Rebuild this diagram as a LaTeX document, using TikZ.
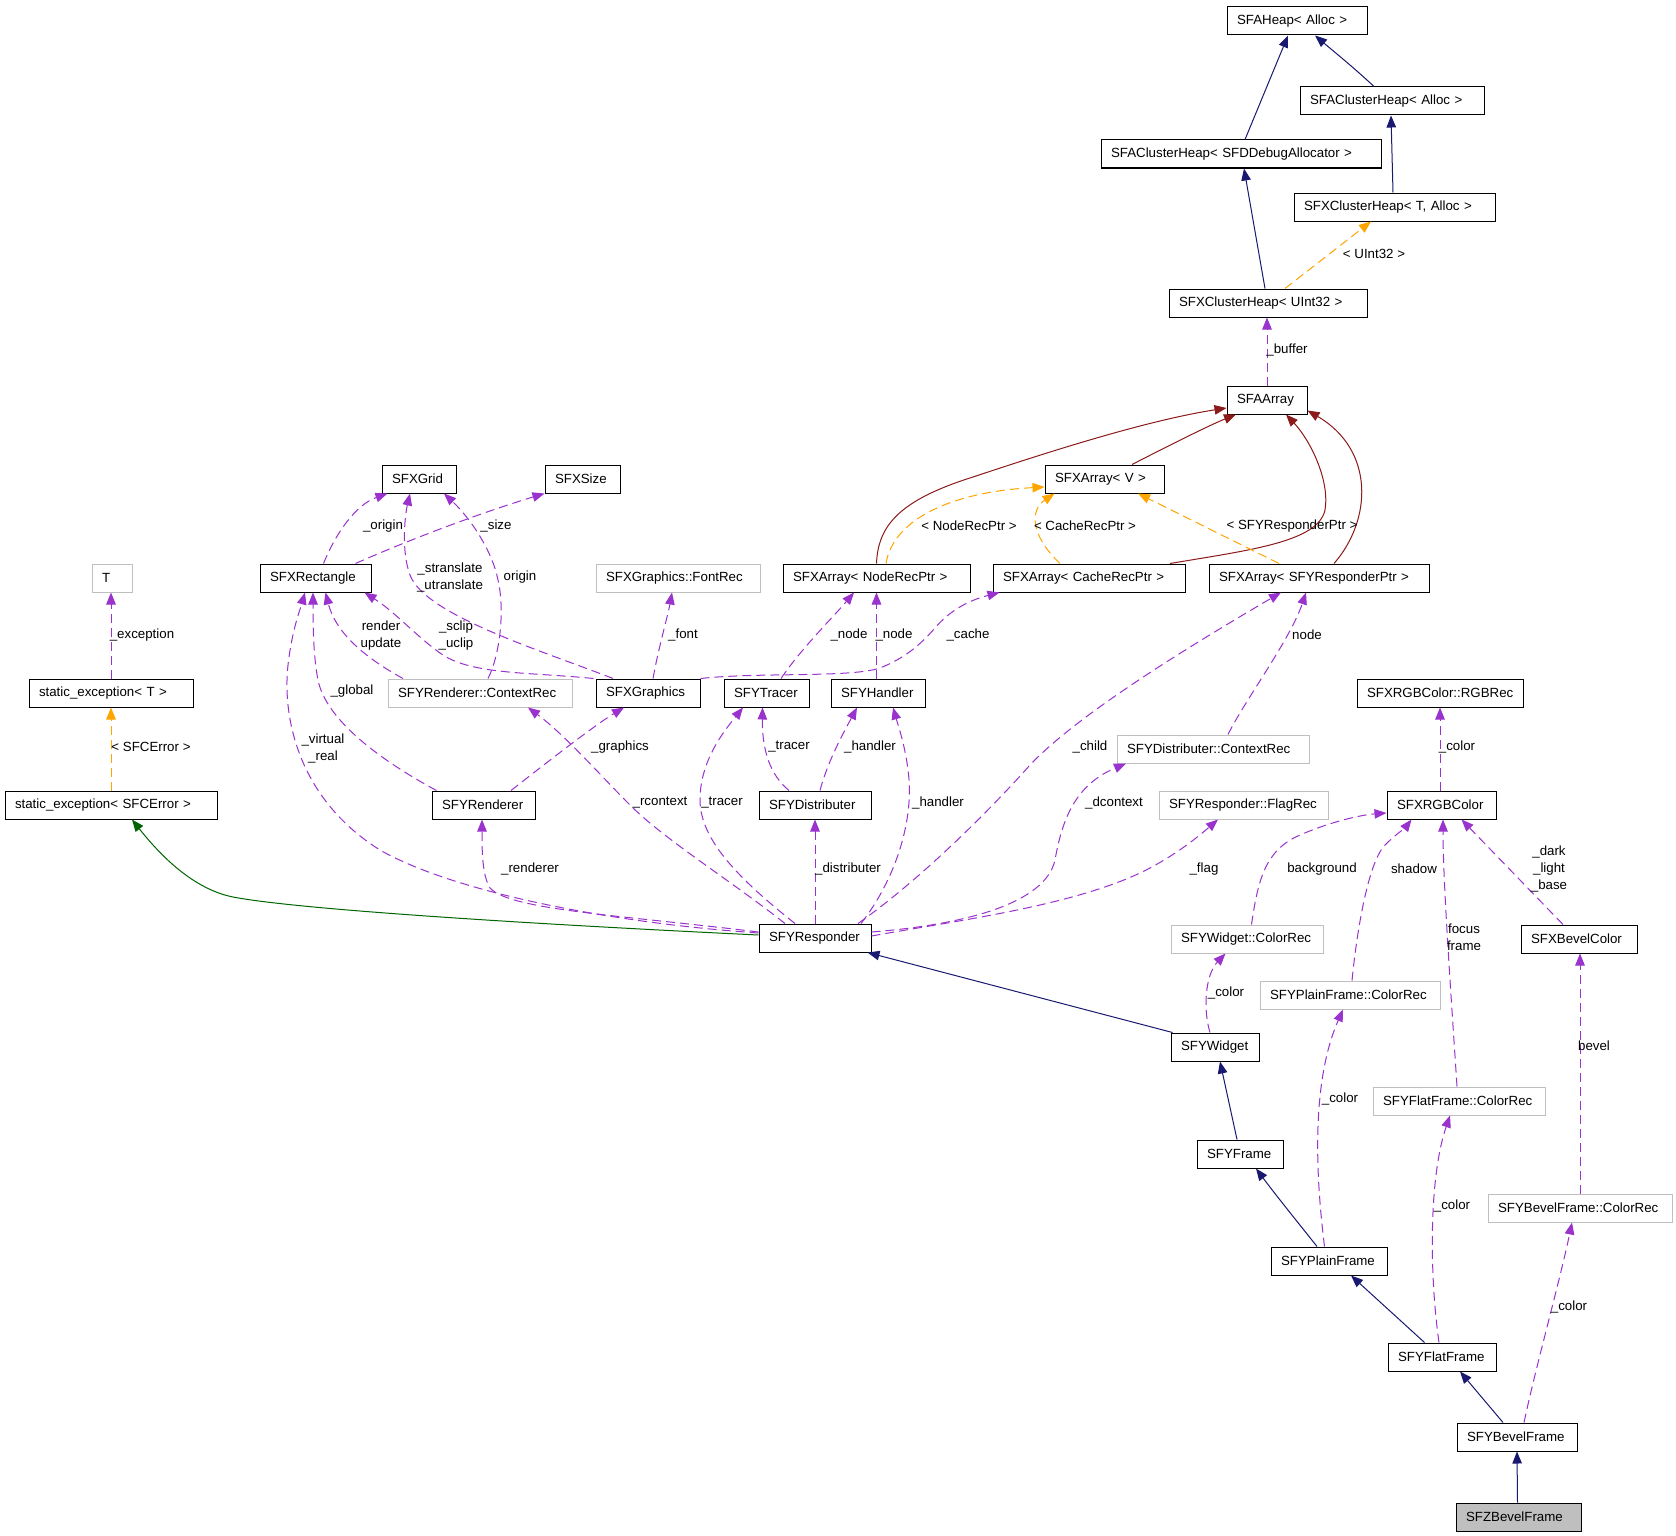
\documentclass[tikz,border=0pt]{standalone}
\usepackage{fontspec}
\setmainfont{Liberation Sans}
\usetikzlibrary{arrows.meta,calc}
\definecolor{cNavy}{HTML}{191970}
\definecolor{cFire}{HTML}{8B1A1A}
\definecolor{cGreen}{HTML}{006400}
\definecolor{cOrch}{HTML}{9A32CD}
\definecolor{cOrng}{HTML}{FFA500}
\definecolor{cGray}{HTML}{BFBFBF}
\newcommand\dgfont{\fontsize{13.3}{17}\selectfont}
\begin{document}
\begin{tikzpicture}[x=1pt,y=-1pt,
  cls/.style={draw=black, line width=1pt, inner xsep=10pt, inner ysep=0pt,
    minimum height=28pt, text width=#1, align=left,
    font={\dgfont\hyphenpenalty=10000\exhyphenpenalty=10000}},
  gcls/.style={cls=#1, draw=cGray},
  lbl/.style={inner sep=0pt, align=center, font=\dgfont},
  arr/.style={-{Triangle[length=12pt,width=9.5pt]}, line width=1pt},
  inh/.style={arr, cNavy},
  priv/.style={arr, cFire},
  prot/.style={arr, cGreen},
  usedep/.style={arr, cOrch, dash pattern=on 9pt off 5pt},
  tmpl/.style={arr, cOrng, dash pattern=on 9pt off 5pt},
]
\fill[white] (0,0) rectangle (1676,1536);
\useasboundingbox (0,0) rectangle (1676,1536);

% ---------- nodes ----------
\node[cls=120pt] (heap) at (1297,21) {SFAHeap<~Alloc~>};
\node[cls=164pt] (chAlloc) at (1392,101) {SFAClusterHeap<~Alloc~>};
\node[cls=260pt] (chDebug) at (1241,154) {SFAClusterHeap<~SFDDebugAllocator~>};
\node[cls=181pt] (xchT) at (1394.5,207) {SFXClusterHeap<~T,~Alloc~>};
\node[cls=178pt] (xchU) at (1268,303) {SFXClusterHeap<~UInt32~>};
\node[cls=60pt] (aarray) at (1267,400) {SFAArray};
\node[cls=99pt] (xarrV) at (1104.5,479) {SFXArray<~V~>};
\node[cls=167pt] (xarrNode) at (876.5,578) {SFXArray<~NodeRecPtr~>};
\node[cls=172pt] (xarrCache) at (1089,578) {SFXArray<~CacheRecPtr~>};
\node[cls=200pt] (xarrResp) at (1319,578) {SFXArray<~SFYResponderPtr~>};
\node[cls=54pt] (grid) at (419,479) {SFXGrid};
\node[cls=55pt] (nsize) at (582.5,479) {SFXSize};
\node[cls=91pt] (rect) at (315.5,578) {SFXRectangle};
\node[gcls=144pt] (fontrec) at (678,578) {SFXGraphics::FontRec};
\node[gcls=20pt] (tT) at (112,578) {T};
\node[cls=144pt] (sexT) at (111,693) {static\_exception<~T~>};
\node[cls=192pt] (sexE) at (111,805) {static\_exception<~SFCError~>};
\node[gcls=164pt] (rctx) at (480,693) {SFYRenderer::ContextRec};
\node[cls=84pt] (graphics) at (648,693) {SFXGraphics};
\node[cls=65pt] (tracer) at (766.5,693) {SFYTracer};
\node[cls=74pt] (handler) at (878,693) {SFYHandler};
\node[cls=146pt] (rgbrec) at (1440,693) {SFXRGBColor::RGBRec};
\node[gcls=172pt] (dctx) at (1213,749) {SFYDistributer::ContextRec};
\node[cls=83pt] (renderer) at (483.5,805) {SFYRenderer};
\node[cls=92pt] (distributer) at (815,805) {SFYDistributer};
\node[gcls=149pt] (flagrec) at (1243.5,805) {SFYResponder::FlagRec};
\node[cls=89pt] (rgb) at (1441.5,805) {SFXRGBColor};
\node[cls=92pt] (responder) at (815,938) {SFYResponder};
\node[gcls=132pt] (wcolor) at (1247,939) {SFYWidget::ColorRec};
\node[cls=96pt] (bevelcolor) at (1579,939) {SFXBevelColor};
\node[gcls=160pt] (pcolor) at (1350,995) {SFYPlainFrame::ColorRec};
\node[cls=68pt] (widget) at (1215,1047) {SFYWidget};
\node[gcls=152pt] (fcolor) at (1459,1101) {SFYFlatFrame::ColorRec};
\node[cls=66pt] (frame) at (1240,1154) {SFYFrame};
\node[gcls=164pt] (bcolor) at (1580,1208) {SFYBevelFrame::ColorRec};
\node[cls=96pt] (plain) at (1329,1261) {SFYPlainFrame};
\node[cls=88pt] (flat) at (1442,1357) {SFYFlatFrame};
\node[cls=100pt] (bevel) at (1517,1437) {SFYBevelFrame};
\node[cls=105pt, fill=cGray] (zbevel) at (1518.5,1517) {SFZBevelFrame};

% ---------- public inheritance ----------
\draw[inh] ([xshift=4pt]chDebug.north) -- ([xshift=-9pt]heap.south);
\draw[inh] ([xshift=-18pt]chAlloc.north) .. controls (1352,66) and (1332,50) .. ([xshift=18pt]heap.south);
\draw[inh] ([xshift=-1.5pt]xchT.north) -- ([xshift=-1pt]chAlloc.south);
\draw[inh] ([xshift=-3pt]xchU.north) -- ([xshift=3pt]chDebug.south);
\draw[inh] ([xshift=2pt]widget.north west) -- ([xshift=-4pt]responder.south east);
\draw[inh] ([xshift=-3pt]frame.north) -- ([xshift=5pt]widget.south);
\draw[inh] ([xshift=-12pt]plain.north) .. controls (1300,1225) and (1278,1198) .. ([xshift=16pt]frame.south);
\draw[inh] ([xshift=-17.5pt]flat.north) -- ([xshift=22pt]plain.south);
\draw[inh] ([xshift=-14pt]bevel.north) -- ([xshift=18pt]flat.south);
\draw[inh] ([xshift=-1pt]zbevel.north) -- (bevel.south);

% ---------- protected inheritance ----------
\draw[prot] ([yshift=3pt]responder.west) .. controls (550,925) and (300,910) .. (233,897)
  .. controls (193,889) and (160,855) .. ([xshift=21pt]sexE.south);

% ---------- private inheritance ----------
\draw[priv] (xarrNode.north) .. controls (878,525) and (900,500) .. (973,477)
  .. controls (1060,448) and (1150,420) .. ([yshift=-8pt]aarray.west);
\draw[priv] ([xshift=27.5pt]xarrV.north) .. controls (1170,445) and (1210,425) .. ([xshift=-31pt]aarray.south);
\draw[priv] ([xshift=81pt]xarrCache.north) .. controls (1250,550) and (1318,542) .. (1325,510)
  .. controls (1330,480) and (1310,440) .. ([xshift=19pt]aarray.south);
\draw[priv] ([xshift=15pt]xarrResp.north) .. controls (1372,520) and (1375,450) .. ([yshift=4pt]aarray.south east);

% ---------- template instances ----------
\draw[tmpl] ([xshift=17pt]xchU.north) -- ([xshift=-23.5pt]xchT.south);
\draw[tmpl] (sexE.north) -- (sexT.south);
\draw[tmpl] ([xshift=9.5pt]xarrNode.north) .. controls (893,520) and (950,492) .. ([yshift=-8pt]xarrV.west);
\draw[tmpl] ([xshift=-29pt]xarrCache.north) .. controls (1030,535) and (1030,510) .. ([xshift=-50pt]xarrV.south);
\draw[tmpl] ([xshift=-40pt]xarrResp.north) -- ([xshift=33.5pt]xarrV.south);

% ---------- usage ----------
\draw[usedep] (aarray.north) -- (aarray.north |- xchU.south);
\draw[usedep] (sexT.north) -- (sexT.north |- tT.south);
\draw[usedep] ([xshift=8pt]rect.north) .. controls (335,535) and (355,505) .. ([xshift=6pt]grid.south west);
\draw[usedep] ([xshift=40pt]rect.north) .. controls (420,535) and (490,510) .. (nsize.south west);
\draw[usedep] ([xshift=-35pt]graphics.north) .. controls (540,650) and (425,615) .. (410,575)
  .. controls (401,551) and (405,515) .. ([xshift=-9pt]grid.south);
\draw[usedep] ([xshift=8pt]rctx.north) .. controls (500,655) and (505,610) .. (498,580)
  .. controls (492,550) and (470,518) .. ([xshift=25pt]grid.south);
\draw[usedep] ([xshift=-77pt]rctx.north) .. controls (360,655) and (335,630) .. ([xshift=10pt]rect.south);
\draw[usedep] ([xshift=-2pt]graphics.north west) .. controls (530,672) and (470,675) .. (440,653)
  .. controls (415,635) and (395,612) .. ([xshift=-7pt]rect.south east);
\draw[usedep] ([xshift=5pt]graphics.north) .. controls (658,650) and (668,615) .. ([xshift=-6pt]fontrec.south);
\draw[usedep] ([xshift=5pt]renderer.north west) .. controls (380,760) and (326,720) .. (318,680)
  .. controls (313,655) and (313,620) .. ([xshift=-2.5pt]rect.south);
\draw[usedep] ([yshift=5pt]responder.west) .. controls (600,922) and (450,890) .. (380,850)
  .. controls (300,800) and (282,720) .. (288,665)
  .. controls (292,630) and (300,610) .. ([xshift=-10.5pt]rect.south);
\draw[usedep] ([yshift=6pt]responder.west) .. controls (620,915) and (510,910) .. (490,888)
  .. controls (482,875) and (482,850) .. ([xshift=-1.5pt]renderer.south);
\draw[usedep] ([xshift=-30pt]responder.north) .. controls (730,880) and (665,840) .. (630,805)
  .. controls (600,775) and (565,735) .. ([xshift=48pt]rctx.south);
\draw[usedep] ([xshift=-20pt]responder.north) .. controls (740,880) and (700,840) .. (700,800)
  .. controls (700,760) and (725,730) .. ([xshift=-23.5pt]tracer.south);
\draw[usedep] ([xshift=-26pt]distributer.north) .. controls (770,775) and (762,750) .. ([xshift=-4pt]tracer.south);
\draw[usedep] ([xshift=5pt]distributer.north) .. controls (828,760) and (845,730) .. ([xshift=-21pt]handler.south);
\draw[usedep] (responder.north) -- (distributer.south);
\draw[usedep] ([xshift=46pt]responder.north) .. controls (895,880) and (915,820) .. (908,770)
  .. controls (905,745) and (898,725) .. ([xshift=15pt]handler.south);
\draw[usedep] ([xshift=43pt]responder.north) .. controls (920,880) and (990,810) .. (1030,765)
  .. controls (1080,712) and (1200,640) .. ([xshift=-38pt]xarrResp.south);
\draw[usedep] ([xshift=15pt]dctx.north) .. controls (1245,700) and (1290,640) .. ([xshift=-13pt]xarrResp.south);
\draw[usedep] ([yshift=6pt]responder.east) .. controls (960,925) and (1045,905) .. (1055,860)
  .. controls (1062,820) and (1075,785) .. ([xshift=-87pt]dctx.south);
\draw[usedep] ([yshift=2pt]responder.east) .. controls (960,920) and (1080,905) .. (1150,868)
  .. controls (1180,852) and (1200,835) .. ([xshift=-25.5pt]flagrec.south);
\draw[usedep] ([xshift=4.5pt]wcolor.north) .. controls (1258,880) and (1265,850) .. (1300,835)
  .. controls (1330,822) and (1360,815) .. ([yshift=-8pt]rgb.west);
\draw[usedep] ([xshift=2pt]pcolor.north) .. controls (1358,920) and (1370,860) .. (1385,845)
  .. controls (1395,835) and (1405,828) .. ([xshift=-30pt]rgb.south);
\draw[usedep] ([xshift=-2pt]fcolor.north) .. controls (1450,980) and (1443,880) .. ([xshift=1.5pt]rgb.south);
\draw[usedep] ([xshift=-16pt]bevelcolor.north) -- ([xshift=20pt]rgb.south);
\draw[usedep] ([xshift=-1.5pt]rgb.north) -- (rgbrec.south);
\draw[usedep] ([xshift=-5pt]widget.north) .. controls (1203,1010) and (1205,975) .. ([xshift=-21.5pt]wcolor.south);
\draw[usedep] ([xshift=-4.5pt]plain.north) .. controls (1315,1170) and (1312,1080) .. ([xshift=-7pt]pcolor.south);
\draw[usedep] ([xshift=-3pt]flat.north) .. controls (1430,1280) and (1428,1180) .. ([xshift=-9pt]fcolor.south);
\draw[usedep] ([xshift=7pt]bevel.north) .. controls (1535,1370) and (1560,1280) .. ([xshift=-8pt]bcolor.south);
\draw[usedep] (bcolor.north) -- (bcolor.north |- bevelcolor.south);
\draw[usedep] ([xshift=14.5pt]tracer.north) .. controls (800,650) and (835,615) .. ([xshift=-22.5pt]xarrNode.south);
\draw[usedep] ([xshift=-1.5pt]handler.north) -- (xarrNode.south);
\draw[usedep] (graphics.north east) .. controls (760,672) and (850,678) .. (880,668)
  .. controls (905,658) and (920,645) .. (935,628)
  .. controls (950,610) and (970,600) .. ([xshift=7pt]xarrCache.south west);
\draw[usedep] ([xshift=27.5pt]renderer.north) .. controls (550,760) and (595,725) .. ([xshift=-24pt]graphics.south);

% ---------- labels ----------
\node[lbl] (l1) at (1287,350) {\_buffer};
\node[lbl] (l2) at (1374,254) {< UInt32 >};
\node[lbl] (l3) at (969,526) {< NodeRecPtr >};
\node[lbl] (l4) at (1085,526) {< CacheRecPtr >};
\node[lbl] (l5) at (1292,526) {< SFYResponderPtr >};
\node[lbl] (l6) at (383,526) {\_origin};
\node[lbl] (l7) at (496,526) {\_size};
\node[lbl] (l8) at (450,577) {\_stranslate\\\_utranslate};
\node[lbl] (l9) at (520,577) {origin};
\node[lbl] (l10) at (381,636) {render\\update};
\node[lbl] (l11) at (456,636) {\_sclip\\\_uclip};
\node[lbl] (l12) at (683,635) {\_font};
\node[lbl] (l13) at (849,635) {\_node};
\node[lbl] (l14) at (894,635) {\_node};
\node[lbl] (l15) at (968,635) {\_cache};
\node[lbl] (l16) at (1307,635) {node};
\node[lbl] (l17) at (142,635) {\_exception};
\node[lbl] (l18) at (352,691) {\_global};
\node[lbl] (l19) at (323,748) {\_virtual\\\_real};
\node[lbl] (l20) at (620,747) {\_graphics};
\node[lbl] (l21) at (789,747) {\_tracer};
\node[lbl] (l22) at (870,747) {\_handler};
\node[lbl] (l23) at (1090,747) {\_child};
\node[lbl] (l24) at (1457,747) {\_color};
\node[lbl] (l25) at (151,747) {< SFCError >};
\node[lbl] (l26) at (660,803) {\_rcontext};
\node[lbl] (l27) at (722,803) {\_tracer};
\node[lbl] (l28) at (938,803) {\_handler};
\node[lbl] (l29) at (1114,803) {\_dcontext};
\node[lbl] (l30) at (530,869) {\_renderer};
\node[lbl] (l31) at (848,869) {\_distributer};
\node[lbl] (l32) at (1204,869) {\_flag};
\node[lbl] (l33) at (1322,869) {background};
\node[lbl] (l34) at (1414,869) {shadow};
\node[lbl] (l35) at (1549,869) {\_dark\\\_light\\\_base};
\node[lbl] (l36) at (1464,937) {focus\\frame};
\node[lbl] (l37) at (1226,993) {\_color};
\node[lbl] (l38) at (1594,1046) {bevel};
\node[lbl] (l39) at (1340,1099) {\_color};
\node[lbl] (l40) at (1452,1206) {\_color};
\node[lbl] (l41) at (1569,1307) {\_color};
\end{tikzpicture}
\end{document}
